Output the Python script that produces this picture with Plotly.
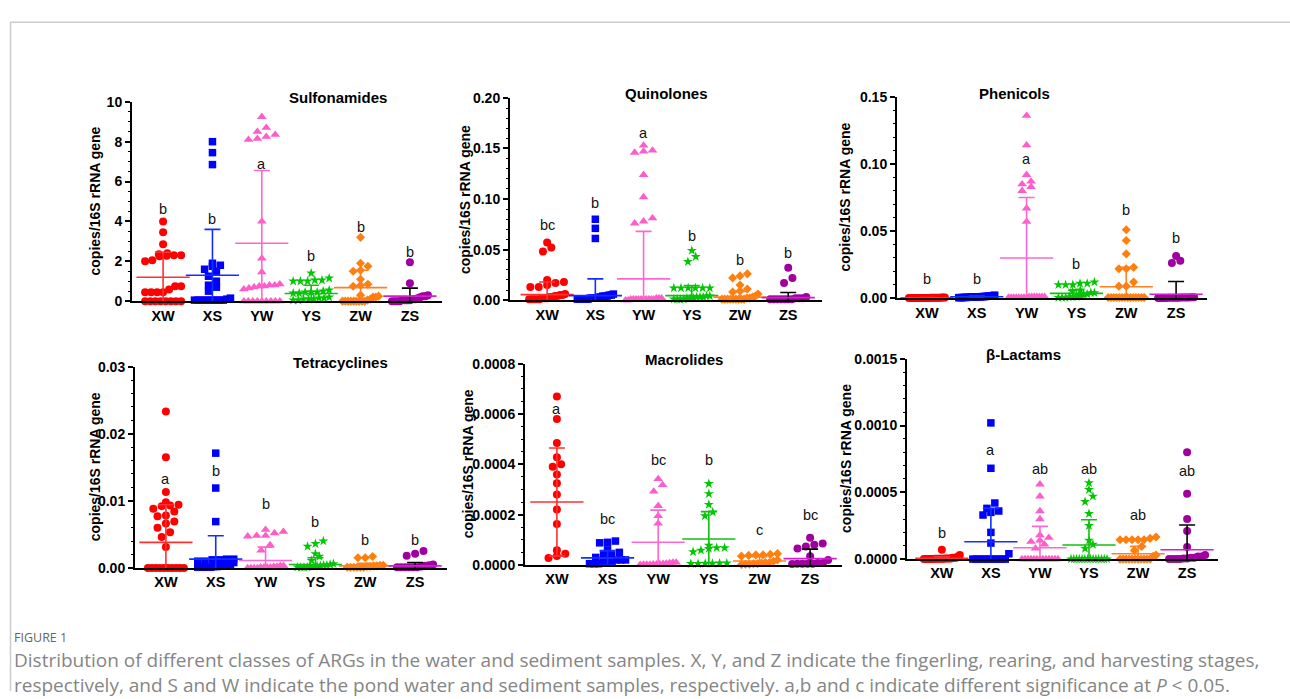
import numpy as np
import plotly.graph_objects as go

W, H = 1290, 699
groups = ["XW", "XS", "YW", "YS", "ZW", "ZS"]
colors = ["#FF0000", "#0000FF", "#FF5CCB", "#00C800", "#FF7F0E", "#A000A0"]
mean_colors = ["#FF3030", "#1030FF", "#FF66D0", "#10C010", "#FF8020", "#D020D0"]
err_colors = ["#FF3030", "#1030FF", "#FF66D0", "#10C010", "#FF8020", "#000000"]
symbols = ["circle", "square", "triangle-up", "star", "diamond", "circle"]
msizes = [8, 7.5, 8.5, 7.5, 7, 8]

titles = ["Sulfonamides", "Quinolones", "Phenicols", "Tetracyclines", "Macrolides", "β-Lactams"]

# ---------------- Sulfonamides ----------------
sul_XW = [4.0, 3.45, 2.85, 2.4, 2.35, 2.3, 2.25, 2.3, 2.05, 2.0, 2.28, 0.75, 0.75, 0.58, 0.45, 0.45, 0.45, 0.45, 0, 0, 0, 0, 0, 0, 0, 0]
sul_XS = [8.0, 7.45, 6.85, 1.9, 1.8, 1.75, 1.6, 1.5, 1.25, 1.0, 0.8, 0.7, 0.5, 0.15, 0.1, 0.05, 0.05, 0.05, 0.05, 0.05, 0.05, 0.05, 0.05, 0.05]
sul_YW = [9.25, 8.7, 8.5, 8.35, 8.25, 8.15, 8.1, 4.0, 2.15, 1.45, 0.85, 0.8, 0.8, 0.75, 0.75, 0.7, 0.65, 0.6, 0, 0, 0, 0, 0, 0, 0, 0, 0]
sul_YS = [1.4, 1.15, 1.05, 1.05, 1.0, 1.0, 1.0, 0.55, 0.5, 0.45, 0.45, 0.45, 0.4, 0.4, 0.2, 0.15, 0.15, 0.1, 0.1, 0.1, 0.05, 0.05]
sul_ZW = [3.2, 1.9, 1.75, 1.55, 1.5, 1.1, 0.85, 0.8, 0.75, 0.3, 0.25, 0.2, 0.2, 0.1, 0.05, 0, 0, 0, 0, 0, 0, 0, 0, 0]
sul_ZS = [1.95, 0.9, 0.3, 0.25, 0.25, 0.2, 0.15, 0.1, 0.1, 0.05, 0.05, 0.05, 0.05, 0, 0, 0, 0]
sul_mean = [1.2, 1.3, 2.9, 0.38, 0.68, 0.25]
sul_sd = [1.25, 2.3, 3.65, 0.42, 0.87, 0.4]
sul_letters = ["b", "b", "a", "b", "b", "b"]
sul_letter_y = [4.6, 4.1, 6.9, 2.25, 3.7, 2.45]

# ---------------- Quinolones ----------------
qui_XW = [0.057, 0.052, 0.048, 0.02, 0.018, 0.017, 0.015, 0.013, 0.013, 0.006, 0.005, 0.005, 0.004, 0.004, 0.003, 0.003, 0.002, 0.002, 0.002, 0.001, 0.001, 0.001, 0.001, 0.001]
qui_XS = [0.08, 0.071, 0.061, 0.006, 0.005, 0.005, 0.004, 0.004, 0.004, 0.003, 0.003, 0.002, 0.002, 0.002, 0.002, 0.001, 0.001, 0.001, 0.001, 0.001, 0.001]
qui_YW = [0.153, 0.148, 0.147, 0.146, 0.124, 0.102, 0.081, 0.078, 0.076, 0.002, 0.002, 0.002, 0.001, 0.001, 0.001, 0.001, 0.001, 0.001, 0.001, 0.001, 0.001, 0.001, 0.0, 0.0]
qui_YS = [0.049, 0.043, 0.038, 0.012, 0.012, 0.012, 0.012, 0.012, 0.012, 0.004, 0.004, 0.003, 0.003, 0.003, 0.002, 0.002, 0.002, 0.001, 0.001, 0.001, 0.001]
qui_ZW = [0.026, 0.024, 0.022, 0.015, 0.011, 0.009, 0.008, 0.006, 0.004, 0.003, 0.002, 0.002, 0.001, 0.001, 0.001, 0.001, 0.001, 0.001, 0.001, 0.001, 0.001]
qui_ZS = [0.032, 0.022, 0.017, 0.003, 0.002, 0.002, 0.002, 0.001, 0.001, 0.001, 0.001, 0.001, 0.001, 0.001]
qui_mean = [0.0055, 0.0045, 0.021, 0.0045, 0.003, 0.0025]
qui_sd = [0.0125, 0.0165, 0.047, 0.01, 0.0057, 0.005]
qui_letters = ["bc", "b", "a", "b", "b", "b"]
qui_letter_y = [0.0747, 0.0957, 0.1655, 0.0635, 0.040, 0.047]

# ---------------- Phenicols ----------------
phe_XW = [0.0006, 0.0005, 0.0005, 0.0004, 0.0004, 0.0004, 0.0003, 0.0003, 0.0003, 0.0003, 0.0002, 0.0002, 0.0002, 0.0002, 0.0002, 0.0001, 0.0001, 0.0001, 0.0001, 0.0001, 0.0001, 0.0001, 0.0001, 0.0001]
phe_XS = [0.0022, 0.002, 0.0018, 0.0016, 0.0015, 0.0014, 0.0013, 0.0012, 0.0012, 0.0011, 0.001, 0.001, 0.0009, 0.0009, 0.0008, 0.0008, 0.0007, 0.0007, 0.0006, 0.0006, 0.0005, 0.0005, 0.0004, 0.0004]
phe_YW = [0.136, 0.114, 0.092, 0.087, 0.085, 0.083, 0.08, 0.067, 0.057, 0.001, 0.001, 0.001, 0.001, 0.001, 0.001, 0.001, 0.0005, 0.0005, 0.0005, 0.0005, 0.0005, 0.0005, 0.0005, 0.0005]
phe_YS = [0.012, 0.011, 0.011, 0.010, 0.010, 0.010, 0.006, 0.005, 0.004, 0.004, 0.003, 0.003, 0.002, 0.001, 0.001, 0.001, 0.0005, 0.0005, 0.0005]
phe_ZW = [0.051, 0.043, 0.033, 0.023, 0.022, 0.022, 0.012, 0.009, 0.009, 0.0005, 0.0005, 0.0005, 0.0005, 0.0005, 0.0005, 0.0005, 0.0005, 0.0005, 0.0005, 0.0005, 0.0005, 0.0005, 0.0005]
phe_ZS = [0.0315, 0.028, 0.0262, 0.0008, 0.0007, 0.0006, 0.0006, 0.0005, 0.0005, 0.0004, 0.0004, 0.0003, 0.0003, 0.0003, 0.0002, 0.0002, 0.0002, 0.0001]
phe_mean = [0.0003, 0.0011, 0.03, 0.0036, 0.0085, 0.003]
phe_sd = [0.0002, 0.0006, 0.045, 0.0026, 0.0145, 0.0094]
phe_letters = ["b", "b", "a", "b", "b", "b"]
phe_letter_y = [0.014, 0.014, 0.1034, 0.0257, 0.0658, 0.045]

# ---------------- Tetracyclines ----------------
tet_XW = [0.0233, 0.0165, 0.0113, 0.0098, 0.0094, 0.0093, 0.0092, 0.0088, 0.0084, 0.0078, 0.0077, 0.0069, 0.0066, 0.006, 0.0053, 0.0046, 0.0031, 0, 0, 0, 0, 0, 0, 0, 0, 0, 0]
tet_XS = [0.0171, 0.0119, 0.0069, 0.0013, 0.0013, 0.0012, 0.0012, 0.001, 0.001, 0.0008, 0.0005, 0.0004, 0.0003, 0.0003, 0.0002, 0.0002, 0.0001, 0.0001, 0.0001, 0.0001, 0.0001]
tet_YW = [0.0057, 0.0054, 0.0052, 0.0048, 0.0048, 0.0047, 0.0034, 0.0026, 0.0003, 0.0003, 0.0002, 0.0002, 0.0001, 0.0001, 0.0001, 0.0001, 0, 0, 0, 0]
tet_YS = [0.004, 0.0036, 0.0032, 0.0021, 0.0017, 0.0011, 0.0006, 0.0005, 0.0004, 0.0004, 0.0003, 0.0003, 0.0002, 0.0002, 0.0001, 0.0001, 0.0001, 0.0001]
tet_ZW = [0.0017, 0.0015, 0.0015, 0.0004, 0.0004, 0.0003, 0.0003, 0.0002, 0.0002, 0.0001, 0.0001, 0.0001, 0.0001, 0.0001, 0.0001]
tet_ZS = [0.0025, 0.0021, 0.0018, 0.0005, 0.0004, 0.0003, 0.0002, 0.0001, 0.0001, 0.0001, 0.0001, 0.0001, 0.0001]
tet_mean = [0.0038, 0.0013, 0.0011, 0.0005, 0.0003, 0.0003]
tet_sd = [0.0056, 0.0035, 0.002, 0.001, 0.0004, 0.0005]
tet_letters = ["a", "b", "b", "b", "b", "b"]
tet_letter_y = [0.0133, 0.0145, 0.0095, 0.0068, 0.0042, 0.0042]

# ---------------- Macrolides ----------------
mac_XW = [0.00067, 0.00058, 0.000485, 0.000428, 0.0004, 0.00039, 0.00036, 0.000325, 0.00028, 0.00022, 0.000163, 0.000058, 0.000045, 0.000036, 0.000028]
mac_XS = [0.000095, 0.00009, 0.000088, 0.00006, 0.00005, 0.00004, 0.00004, 0.00003, 0.00002, 0.00002, 0.00002, 0.00001, 0.00001, 0.00001, 0.000005, 0.000005, 0.000005]
mac_YW = [0.000342, 0.000318, 0.000292, 0.000235, 0.000195, 0.000165, 0.00001, 0.00001, 0.000008, 0.000006, 0.000005, 0.000004, 0.000003, 0.000003, 0.000002, 0.000002, 0.000002, 0.000001]
mac_YS = [0.000323, 0.000283, 0.00024, 0.00021, 0.000195, 0.000078, 0.000068, 0.000065, 0.000058, 0.000052, 0.000068, 0.000007, 0.000007, 0.000006, 0.000006, 0.000005, 0.000005]
mac_ZW = [0.000045, 0.00004, 0.00004, 0.000038, 0.000042, 0.000035, 0.00002, 0.000015, 0.00001, 0.00001, 0.000008, 0.000005, 0.000005, 0.000003, 0.000003, 0.000002]
mac_ZS = [0.000108, 0.000085, 0.00008, 0.000073, 0.000065, 0.000035, 0.00002, 0.000008, 0.000008, 0.000005, 0.000005, 0.000005, 0.000005, 0.000004]
mac_mean = [0.00025, 0.000028, 0.00009, 0.000103, 0.000016, 0.000025]
mac_sd = [0.000215, 0.000029, 0.000128, 0.000109, 0.000017, 0.000038]
mac_letters = ["a", "bc", "bc", "b", "c", "bc"]
mac_letter_y = [0.000621, 0.000181, 0.000418, 0.000418, 0.00014, 0.0002]

# ---------------- beta-Lactams ----------------
bla_XW = [0.00007, 0.00003, 0.00002, 0.00001, 0.00001, 0.00001, 0.000005, 0.000005, 0.000005, 0.000005, 0.000003, 0.000003, 0.000003, 0.000002, 0.000002, 0.000002, 0.000001, 0.000001, 0.000001, 0.000001, 0.000001, 0.000001]
bla_XS = [0.00102, 0.00068, 0.00042, 0.00038, 0.00036, 0.00035, 0.00033, 0.0002, 0.00012, 0.00004, 0, 0, 0, 0, 0, 0, 0, 0, 0, 0]
bla_YW = [0.00056, 0.00047, 0.00036, 0.0003, 0.00018, 0.00016, 0.00014, 0.00013, 0.00011, 0.00008, 0, 0, 0, 0, 0, 0, 0, 0, 0, 0, 0, 0, 0]
bla_YS = [0.00057, 0.00052, 0.00047, 0.00043, 0.00034, 0.00025, 0.00014, 0.00011, 0.00008, 0, 0, 0, 0, 0, 0, 0, 0, 0, 0, 0, 0, 0, 0]
bla_ZW = [0.000165, 0.000155, 0.000145, 0.000145, 0.000145, 0.000145, 0.000145, 0.000095, 0.000065, 0.00003, 0.00002, 0, 0, 0, 0, 0, 0, 0, 0, 0, 0, 0]
bla_ZS = [0.0008, 0.00049, 0.0003, 0.00021, 0.00009, 0.00003, 0.00002, 0.00002, 0.00001, 0.00001, 0.000005, 0.000005, 0, 0, 0, 0]
bla_mean = [0.000005, 0.00013, 0.000085, 0.000105, 0.00004, 0.00007]
bla_sd = [0.000012, 0.00025, 0.00016, 0.00019, 0.000055, 0.000185]
bla_letters = ["b", "a", "ab", "ab", "ab", "ab"]
bla_letter_y = [0.000195, 0.000817, 0.000675, 0.000675, 0.00033, 0.000658]

panels = [
    dict(data=[sul_XW, sul_XS, sul_YW, sul_YS, sul_ZW, sul_ZS], mean=sul_mean, sd=sul_sd,
         letters=sul_letters, ly=sul_letter_y, ymax=10, dtick=2, minor=0.5, fmt=".0f"),
    dict(data=[qui_XW, qui_XS, qui_YW, qui_YS, qui_ZW, qui_ZS], mean=qui_mean, sd=qui_sd,
         letters=qui_letters, ly=qui_letter_y, ymax=0.20, dtick=0.05, minor=0.01, fmt=".2f"),
    dict(data=[phe_XW, phe_XS, phe_YW, phe_YS, phe_ZW, phe_ZS], mean=phe_mean, sd=phe_sd,
         letters=phe_letters, ly=phe_letter_y, ymax=0.15, dtick=0.05, minor=0.01, fmt=".2f"),
    dict(data=[tet_XW, tet_XS, tet_YW, tet_YS, tet_ZW, tet_ZS], mean=tet_mean, sd=tet_sd,
         letters=tet_letters, ly=tet_letter_y, ymax=0.03, dtick=0.01, minor=0.002, fmt=".2f"),
    dict(data=[mac_XW, mac_XS, mac_YW, mac_YS, mac_ZW, mac_ZS], mean=mac_mean, sd=mac_sd,
         letters=mac_letters, ly=mac_letter_y, ymax=0.0008, dtick=0.0002, minor=0.00005, fmt=".4f"),
    dict(data=[bla_XW, bla_XS, bla_YW, bla_YS, bla_ZW, bla_ZS], mean=bla_mean, sd=bla_sd,
         letters=bla_letters, ly=bla_letter_y, ymax=0.0015, dtick=0.0005, minor=0.0001, fmt=".4f"),
]

# layout boxes in pixels: (left, right, top, bottom, xmin, xmax, ytitle_offset)
boxes = [
    (132, 442, 96, 300, -0.63, 5.65, 37),
    (510, 822, 92, 299, -0.77, 5.70, 45),
    (897, 1207, 91, 297, -0.60, 5.62, 52),
    (135, 447, 367, 573, -0.62, 5.64, 40),
    (525, 842, 364, 570, -0.63, 5.63, 57),
    (907, 1218, 359, 564, -0.71, 5.63, 61),
]

FONT = "Arial, 'Liberation Sans', sans-serif"
CAPFONT = "'Open Sans', 'Noto Sans', sans-serif"


def swarm(vals, ppu_y, ppu_x, msize, maxw):
    vals = np.asarray(vals, dtype=float)
    order = np.argsort(vals)
    offs = np.zeros(len(vals))
    rows = []
    cur = []
    for idx in order:
        if cur and (vals[idx] - vals[cur[0]]) * ppu_y > msize * 0.8:
            rows.append(cur)
            cur = []
        cur.append(idx)
    if cur:
        rows.append(cur)
    for r in rows:
        n = len(r)
        if n == 1:
            continue
        sp = min(msize * 1.05, maxw / (n - 1))
        for k, idx in enumerate(r):
            offs[idx] = (k - (n - 1) / 2) * sp / ppu_x
    return offs


fig = go.Figure()
annotations = []

for p, (panel, box) in enumerate(zip(panels, boxes)):
    left, right, top, bottom, xmin, xmax, yto = box
    ax = "" if p == 0 else str(p + 1)
    xref, yref = "x" + ax, "y" + ax
    ppu_y = (bottom - top) / panel["ymax"]
    ppu_x = (right - left) / (xmax - xmin)
    for g in range(6):
        vals = panel["data"][g]
        offs = swarm(vals, ppu_y, ppu_x, msizes[g], 36)
        fig.add_trace(go.Scatter(
            x=np.full(len(vals), g) + offs, y=vals, mode="markers",
            xaxis=xref, yaxis=yref, showlegend=False, cliponaxis=False,
            marker=dict(symbol=symbols[g], size=msizes[g], color=colors[g], line=dict(width=0)),
        ))
    for g in range(6):
        fig.add_trace(go.Scatter(
            x=[g], y=[panel["mean"][g]], mode="markers",
            xaxis=xref, yaxis=yref, showlegend=False, cliponaxis=True,
            marker=dict(symbol="line-ew", size=38, color=mean_colors[g],
                        line=dict(width=1.6, color=mean_colors[g])),
            error_y=dict(type="data", array=[panel["sd"][g]], symmetric=True,
                         color=err_colors[g], thickness=1.6, width=8),
        ))
    for g in range(6):
        annotations.append(dict(
            x=g, y=panel["ly"][g], xref=xref, yref=yref, text=panel["letters"][g],
            showarrow=False, font=dict(family=FONT, size=14.5, color="#111"), yanchor="middle"))
    annotations.append(dict(
        x=(left + right) / 2 / W, y=1 - (top - 4) / H, xref="paper", yref="paper",
        text="<b>%s</b>" % titles[p], showarrow=False, yanchor="middle",
        font=dict(family=FONT, size=15, color="#000")))
    annotations.append(dict(
        x=(left - yto) / W, y=1 - (top + bottom) / 2 / H, xref="paper", yref="paper",
        text="<b>copies/16S rRNA gene</b>", textangle=-90, showarrow=False,
        xanchor="center", yanchor="middle", font=dict(family=FONT, size=14, color="#000")))

    tickvals = list(np.round(np.arange(0, panel["ymax"] + panel["dtick"] / 2, panel["dtick"]), 8))
    ticktext = [format(v, panel["fmt"]) for v in tickvals]
    fig.layout["xaxis" + ax] = dict(
        domain=[left / W, right / W], range=[xmin, xmax], anchor=yref,
        tickmode="array", tickvals=list(range(6)), ticktext=["<b>%s</b>" % s for s in groups],
        showline=True, linecolor="#000", linewidth=2, ticks="", showgrid=False, zeroline=False,
        tickfont=dict(family=FONT, size=14.5, color="#000"), fixedrange=True)
    fig.layout["yaxis" + ax] = dict(
        domain=[1 - bottom / H, 1 - top / H], range=[0, panel["ymax"]], anchor=xref,
        tickmode="array", tickvals=tickvals, ticktext=["<b>%s</b>" % t for t in ticktext],
        showline=True, linecolor="#000", linewidth=2, ticks="outside", ticklen=5,
        tickwidth=1.5, tickcolor="#000", showgrid=False, zeroline=False,
        minor=dict(dtick=panel["minor"], tick0=0, ticks="outside", ticklen=2.5, tickwidth=1, tickcolor="#000", showgrid=False),
        tickfont=dict(family=FONT, size=14, color="#000"), fixedrange=True)

# caption
annotations.append(dict(x=12 / W, y=1 - 644 / H, xref="paper", yref="paper", xanchor="left", yanchor="middle",
                        text="FIGURE 1", showarrow=False,
                        font=dict(family=CAPFONT, size=12.5, color="#666")))
annotations.append(dict(x=12 / W, y=1 - 680 / H, xref="paper", yref="paper", xanchor="left", yanchor="middle",
                        text="Distribution of different classes of ARGs in the water and sediment samples. X, Y, and Z indicate the fingerling, rearing, and harvesting stages,"
                             "<br>respectively, and S and W indicate the pond water and sediment samples, respectively. a,b and c indicate different significance at <i>P</i> &lt; 0.05.",
                        showarrow=False, align="left",
                        font=dict(family=CAPFONT, size=19, color="#858585")))

shapes = [
    dict(type="line", xref="paper", yref="paper", x0=10 / W, x1=1, y0=1 - 14.5 / H, y1=1 - 14.5 / H,
         line=dict(color="#cccccc", width=1.5)),
    dict(type="line", xref="paper", yref="paper", x0=10.5 / W, x1=10.5 / W, y0=0, y1=1 - 14.5 / H,
         line=dict(color="#cccccc", width=1.5)),
]

fig.update_layout(width=W, height=H, margin=dict(l=0, r=0, t=0, b=0),
                  paper_bgcolor="#fff", plot_bgcolor="rgba(0,0,0,0)",
                  annotations=annotations, shapes=shapes, showlegend=False,
                  font=dict(family=FONT))
fig.write_html("out.html", config={"displayModeBar": False})
